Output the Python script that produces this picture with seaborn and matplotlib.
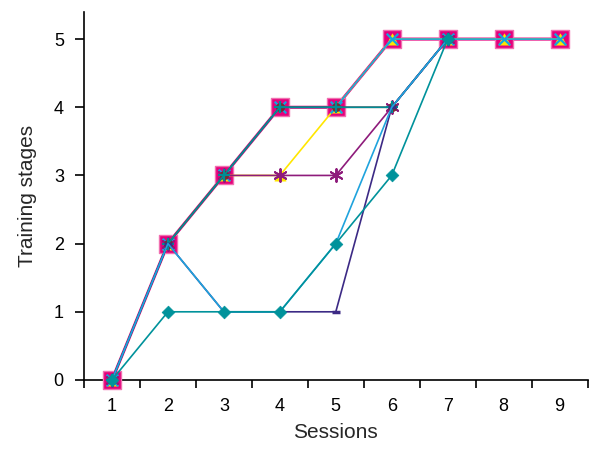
import matplotlib
matplotlib.use("Agg")
import matplotlib.pyplot as plt
import seaborn as sns
import pandas as pd
import numpy as np
from matplotlib.ticker import FixedLocator

sessions = [1, 2, 3, 4, 5, 6, 7, 8, 9]
s_square = [0, 2, 3, 4, 4, 5, 5, 5, 5]
s_triangle = [0, 2, 3, 3, 4, 5, 5, 5, 5]
s_xmark = [0, 2, 3, 4, 4, 5, 5, 5, 5]
s_star = [0, 2, 3, 3, 3, 4, 5, None, None]
s_circle = [0, 2, 3, 4, 4, 4, 5, None, None]
s_plus = [0, 2, 3, 4, 4, 4, 5, None, None]
s_dash = [0, 2, 1, 1, 1, 4, 5, None, None]
s_light = [0, 2, 1, 1, 2, 4, 5, None, None]
s_diamond = [0, 1, 1, 1, 2, 3, 5, None, None]
x_tick_labels = ["1", "2", "3", "4", "5", "6", "7", "8", "9"]
y_ticks = [0, 1, 2, 3, 4, 5]

sns.set_style("ticks")
plt.rcParams['font.family'] = ['Liberation Sans', 'DejaVu Sans']

fig = plt.figure(figsize=(5.89, 4.49), dpi=100)
ax = fig.add_axes([0.1426, 0.1537, 0.855, 0.82])

# (values, color, line width, marker, size, facecolor, edgecolor, marker linewidth)
series = [
    (s_square, "#E4007C", 2.2, "s", 150, "#E4007C", "#F070B0", 1.0),
    (s_triangle, "#FFE600", 1.2, "^", 65, "#FFE600", "#FFE600", 0.5),
    (s_xmark, "#12A6DF", 1.2, "x", 70, "#12A6DF", "#12A6DF", 1.6),
    (s_star, "#8E1B7B", 1.2, (6, 2, 0), 85, "#8E1B7B", "#8E1B7B", 1.4),
    (s_circle, "#7B2A2A", 1.2, "o", 36, "#7B2A2A", "#7B2A2A", 0.5),
    (s_plus, "#008C95", 1.2, "+", 70, "#008C95", "#008C95", 1.6),
    (s_dash, "#3C2A85", 1.2, "_", 40, "#3C2A85", "#3C2A85", 2.5),
    (s_light, "#1FA3DD", 1.2, None, 0, None, None, 0),
    (s_diamond, "#00929B", 1.2, "D", 42, "#00929B", "#00929B", 0.5),
]

z = 2
for vals, col, lw, mk, size, fc, ec, mlw in series:
    df = pd.DataFrame({"Sessions": sessions,
                       "Stage": [np.nan if v is None else v for v in vals]}).dropna()
    sns.lineplot(data=df, x="Sessions", y="Stage", ax=ax, color=col,
                 linewidth=lw, clip_on=False, zorder=z)
    z += 1
    if mk is not None:
        sns.scatterplot(data=df, x="Sessions", y="Stage", ax=ax, marker=mk,
                        s=size, color=fc, edgecolor=ec, linewidth=mlw,
                        clip_on=False, zorder=z, legend=False)
        z += 1

ax.set_xlim(0.5, 9.5)
ax.set_ylim(0, 5.4)
ax.set_xticks(sessions)
ax.set_xticklabels(x_tick_labels)
ax.xaxis.set_minor_locator(FixedLocator([v + 0.5 for v in [0] + sessions]))
ax.tick_params(axis="x", which="major", length=0, labelsize=13, pad=13, colors="black")
ax.tick_params(axis="x", which="minor", length=6, width=1.2, direction="out", colors="black")
ax.set_yticks(y_ticks)
ax.tick_params(axis="y", length=6.5, width=1.2, labelsize=13, pad=8, colors="black")
for side in ["top", "right"]:
    ax.spines[side].set_visible(False)
for side in ["left", "bottom"]:
    ax.spines[side].set_linewidth(1.2)
    ax.spines[side].set_color("black")
ax.set_xlabel("Sessions", fontsize=15, labelpad=6)
ax.set_ylabel("Training stages", fontsize=15, labelpad=12)
if ax.get_legend():
    ax.get_legend().remove()

fig.savefig("out.png", dpi=100)
